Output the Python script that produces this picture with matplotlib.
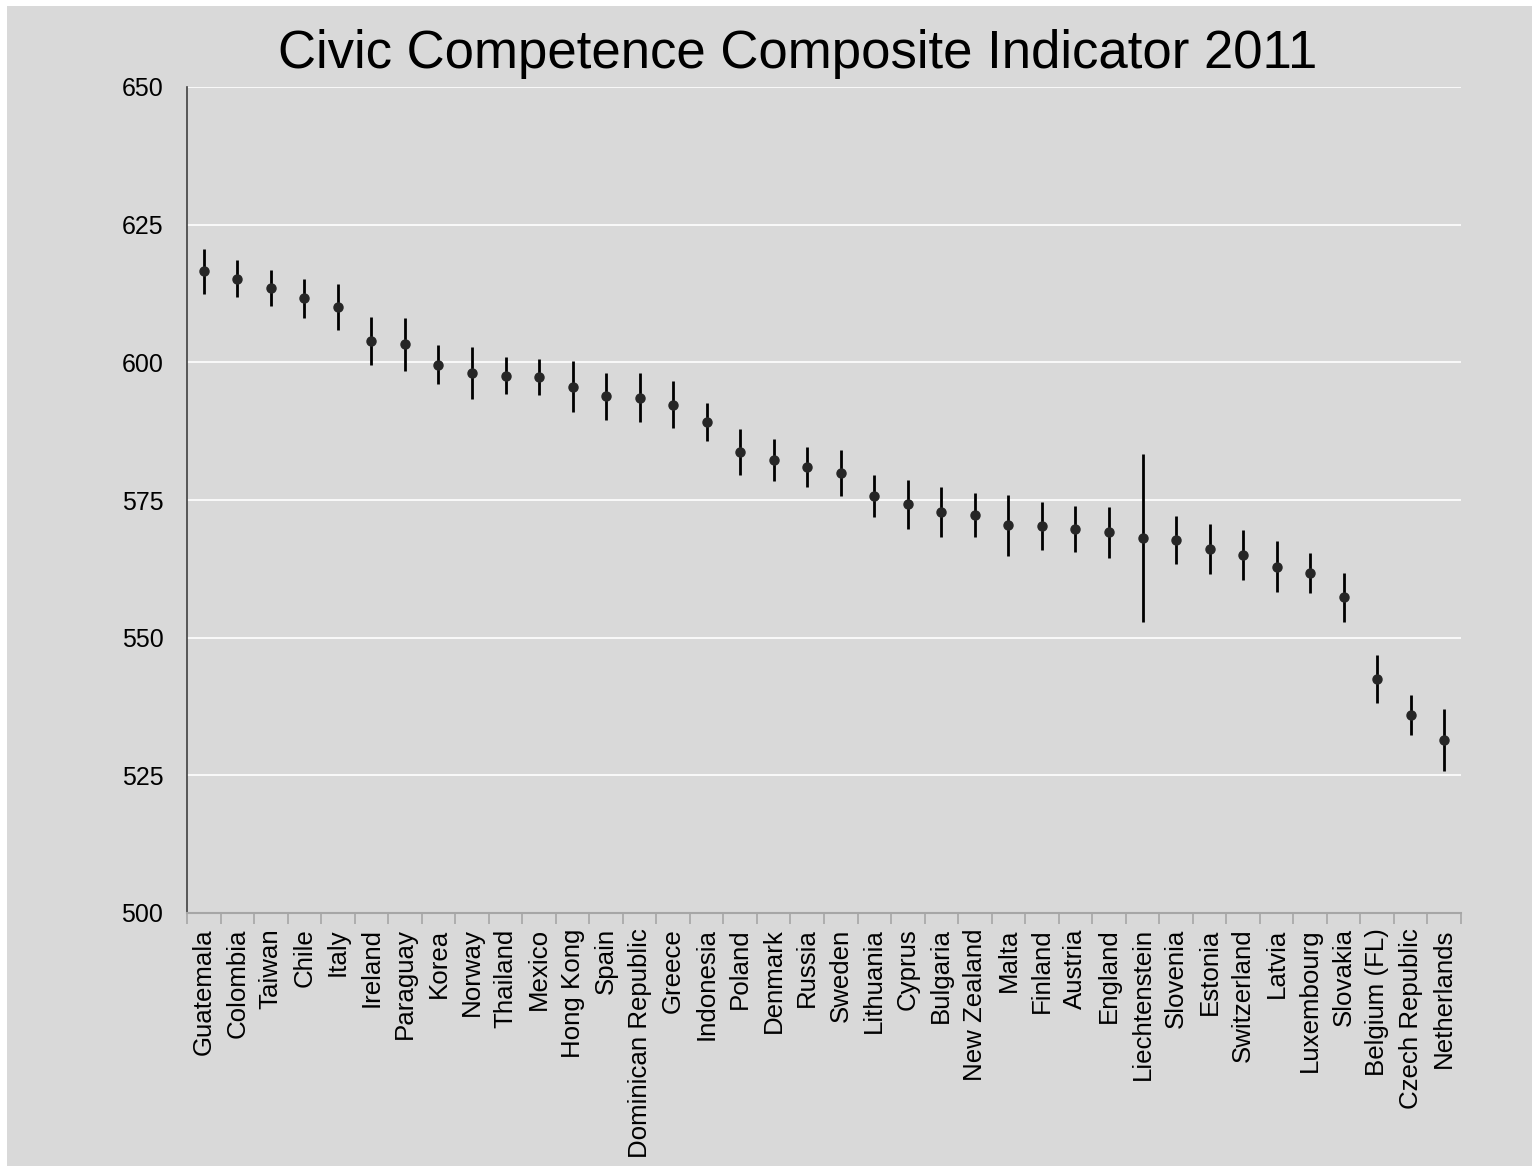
import matplotlib
matplotlib.use("Agg")
import matplotlib.pyplot as plt
from matplotlib.patches import Rectangle
import numpy as np

countries = [
    "Guatemala", "Colombia", "Taiwan", "Chile", "Italy", "Ireland", "Paraguay",
    "Korea", "Norway", "Thailand", "Mexico", "Hong Kong", "Spain",
    "Dominican Republic", "Greece", "Indonesia", "Poland", "Denmark", "Russia",
    "Sweden", "Lithuania", "Cyprus", "Bulgaria", "New Zealand", "Malta",
    "Finland", "Austria", "England", "Liechtenstein", "Slovenia", "Estonia",
    "Switzerland", "Latvia", "Luxembourg", "Slovakia", "Belgium (FL)",
    "Czech Republic", "Netherlands",
]
scores = [
    616.5, 615.2, 613.5, 611.6, 610.1, 603.9, 603.3,
    599.6, 598.1, 597.6, 597.3, 595.6, 593.8,
    593.6, 592.3, 589.2, 583.7, 582.2, 581.0,
    579.9, 575.7, 574.2, 572.8, 572.2, 570.4,
    570.3, 569.7, 569.1, 568.1, 567.7, 566.1,
    565.0, 562.9, 561.8, 557.3, 542.5,
    536.0, 531.4,
]
errors = [
    4.0, 3.4, 3.3, 3.5, 4.2, 4.3, 4.8,
    3.5, 4.7, 3.4, 3.3, 4.6, 4.3,
    4.4, 4.3, 3.5, 4.2, 3.8, 3.7,
    4.2, 3.8, 4.5, 4.5, 4.0, 5.5,
    4.3, 4.2, 4.6, 15.2, 4.4, 4.6,
    4.6, 4.6, 3.6, 4.4, 4.4,
    3.6, 5.6,
]
y_ticks = [500, 525, 550, 575, 600, 625, 650]
title = "Civic Competence Composite Indicator 2011"

W, H, DPI = 1532, 1166, 100
bg = "#D9D9D9"
plt.rcParams["font.family"] = ["Liberation Sans", "DejaVu Sans"]

fig = plt.figure(figsize=(W / DPI, H / DPI), dpi=DPI, facecolor="white")
# grey slide background with a thin white margin on the top and left
fig.patches.append(Rectangle((7 / W, 0), 1 - 7 / W, 1 - 6 / H,
                             transform=fig.transFigure, facecolor=bg,
                             edgecolor="none", zorder=-10))

ax = fig.add_axes([187 / W, 253 / H, 1274 / W, 826 / H])
ax.set_facecolor(bg)

x = np.arange(len(countries))
ax.errorbar(x, scores, yerr=errors, fmt="o", color="#262626", ms=6.5,
            ecolor="black", elinewidth=2, capsize=0, zorder=3)

ax.set_xlim(-0.5, len(countries) - 0.5)
ax.set_ylim(y_ticks[0], y_ticks[-1])
ax.set_yticks(y_ticks)
ax.set_yticklabels([str(v) for v in y_ticks], fontsize=18)
ax.yaxis.grid(True, color="white", linewidth=1.2, zorder=0)
ax.set_axisbelow(True)

ax.set_xticks(x)
ax.set_xticklabels(countries, rotation=90, fontsize=18.6, va="top", ha="center")
ax.set_xticks(np.arange(len(countries) + 1) - 0.5, minor=True)
ax.tick_params(axis="x", which="major", length=0, pad=11)
ax.tick_params(axis="x", which="minor", length=8, width=1.2, color="#A6A6A6")
ax.tick_params(axis="y", length=0, pad=17)

for side in ("top", "right"):
    ax.spines[side].set_visible(False)
ax.spines["left"].set_color("#404040")
ax.spines["left"].set_linewidth(1.2)
ax.spines["bottom"].set_color("#A6A6A6")
ax.spines["bottom"].set_linewidth(1.5)

fig.text(798 / W, 1 - 68 / H, title, fontsize=38, ha="center",
         va="baseline", color="black")

fig.savefig("out.png", dpi=DPI, facecolor=fig.get_facecolor())
